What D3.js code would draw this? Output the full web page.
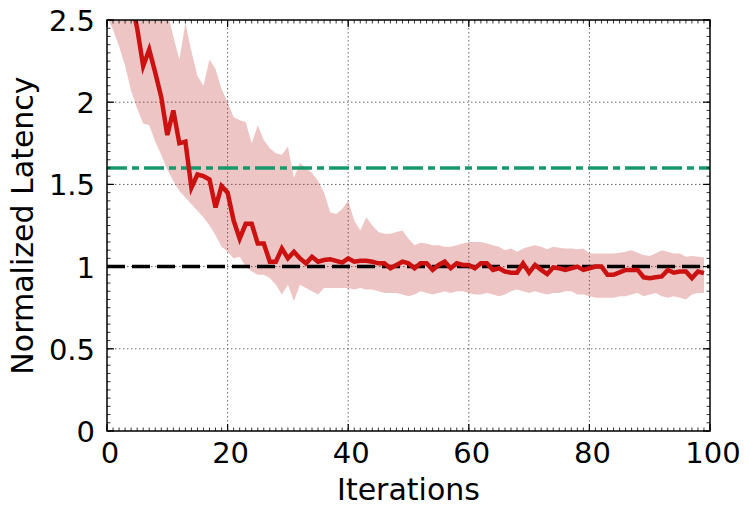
<!DOCTYPE html>
<html>
<head>
<meta charset="utf-8">
<script src="https://cdn.jsdelivr.net/npm/d3@7"></script>
<style>
	body{margin:0;background:#fff;}
	text{font-family:"DejaVu Sans", sans-serif;fill:#000;}
</style>
</head>
<body>
<div id="chart"></div>
<script>
// mean normalized latency per iteration (0..99)
var meanLatency = [3.20,3.05,2.90,2.75,2.62,2.45,2.22,2.32,2.18,2.03,
	1.80,1.95,1.75,1.76,1.48,1.56,1.55,1.53,1.36,1.49,
	1.45,1.28,1.17,1.26,1.26,1.14,1.14,1.03,1.03,1.11,
	1.05,1.09,1.05,1.02,1.06,1.03,1.04,1.045,1.035,1.025,
	1.05,1.03,1.035,1.035,1.03,1.02,1.02,0.99,1.01,1.03,
	1.02,0.99,1.02,1.02,0.98,1.01,1.03,0.99,1.02,1.01,
	1.01,0.99,1.02,1.02,0.98,0.99,0.97,0.963,0.963,1.02,
	0.963,1.01,0.98,0.955,0.995,0.99,0.98,0.99,1.00,0.98,
	0.99,1.00,1.00,0.95,0.95,0.965,0.98,0.98,0.98,0.935,
	0.93,0.935,0.94,0.98,0.963,0.97,0.97,0.93,0.97,0.96];

// upper edge of the shaded band
var upperLatency = [3.30,3.25,3.20,3.15,3.10,3.00,2.90,2.85,2.75,2.65,
	2.55,2.40,2.26,2.48,2.31,2.16,2.10,2.26,2.20,2.08,
	2.00,1.91,1.89,1.88,1.75,1.86,1.77,1.72,1.69,1.68,
	1.73,1.54,1.63,1.60,1.57,1.52,1.45,1.33,1.32,1.35,
	1.40,1.28,1.22,1.30,1.25,1.21,1.20,1.20,1.21,1.22,
	1.17,1.13,1.145,1.14,1.13,1.13,1.12,1.12,1.13,1.14,
	1.15,1.15,1.15,1.14,1.13,1.12,1.10,1.11,1.09,1.11,
	1.12,1.13,1.12,1.105,1.12,1.115,1.11,1.11,1.105,1.11,
	1.08,1.08,1.08,1.08,1.08,1.085,1.09,1.10,1.085,1.07,
	1.065,1.08,1.10,1.09,1.08,1.08,1.06,1.065,1.06,1.056];

// lower edge of the shaded band
var lowerLatency = [2.52,2.44,2.34,2.22,2.07,1.96,1.87,1.86,1.76,1.68,
	1.59,1.52,1.46,1.42,1.38,1.34,1.30,1.25,1.19,1.12,
	1.09,1.05,1.06,1.00,0.97,0.95,0.95,0.93,0.89,0.83,
	0.89,0.79,0.89,0.87,0.85,0.83,0.87,0.87,0.87,0.87,
	0.87,0.86,0.87,0.86,0.86,0.85,0.84,0.84,0.84,0.83,
	0.82,0.83,0.85,0.84,0.83,0.84,0.85,0.84,0.85,0.85,
	0.84,0.83,0.83,0.84,0.83,0.82,0.83,0.85,0.86,0.85,
	0.84,0.85,0.84,0.83,0.84,0.84,0.85,0.85,0.83,0.83,
	0.82,0.81,0.81,0.81,0.81,0.82,0.82,0.83,0.84,0.82,
	0.83,0.84,0.82,0.81,0.82,0.81,0.80,0.83,0.84,0.84];

var xTicks = [0,20,40,60,80,100];
var yTicks = [0,0.5,1,1.5,2,2.5];
var yTickLabels = ["0","0.5","1","1.5","2","2.5"];
var refLines = [1.6,1.0];   // green dash-dot, black dashed

function drawChart(){
	var width = 750, height = 509;
	var pLeft = 107, pRight = 710, pTop = 20, pBottom = 431;

	var x = d3.scaleLinear().domain([0,100]).range([pLeft,pRight]);
	var y = d3.scaleLinear().domain([0,2.5]).range([pBottom,pTop]);

	var svg = d3.select("#chart")
		.append("svg")
		.attr("width", width)
		.attr("height", height);

	svg.append("defs").append("clipPath")
		.attr("id", "plotClip")
		.append("rect")
		.attr("x", pLeft)
		.attr("y", pTop)
		.attr("width", pRight-pLeft)
		.attr("height", pBottom-pTop);

	// grid
	svg.selectAll(".gx")
		.data(xTicks.slice(1,-1))
		.enter().append("line")
		.attr("x1", function(d){return x(d);})
		.attr("x2", function(d){return x(d);})
		.attr("y1", pTop).attr("y2", pBottom)
		.attr("stroke", "#666")
		.attr("stroke-width", 1)
		.attr("stroke-dasharray", "1.5,2.5");

	svg.selectAll(".gy")
		.data(yTicks.slice(1,-1))
		.enter().append("line")
		.attr("y1", function(d){return y(d);})
		.attr("y2", function(d){return y(d);})
		.attr("x1", pLeft).attr("x2", pRight)
		.attr("stroke", "#666")
		.attr("stroke-width", 1)
		.attr("stroke-dasharray", "1.5,2.5");

	var plot = svg.append("g").attr("clip-path", "url(#plotClip)");

	var idx = d3.range(meanLatency.length);

	var band = d3.area()
		.x(function(i){return x(i);})
		.y0(function(i){return y(lowerLatency[i]);})
		.y1(function(i){return y(upperLatency[i]);});

	plot.append("path")
		.datum(idx)
		.attr("d", band)
		.attr("fill", "rgb(190,45,45)")
		.attr("fill-opacity", 0.28);

	// reference lines
	plot.append("line")
		.attr("x1", pLeft).attr("x2", pRight)
		.attr("y1", y(refLines[0])).attr("y2", y(refLines[0]))
		.attr("stroke", "#17996b")
		.attr("stroke-width", 3.5)
		.attr("stroke-dasharray", "20,5,7,5");

	plot.append("line")
		.attr("x1", pLeft).attr("x2", pRight)
		.attr("y1", y(refLines[1])).attr("y2", y(refLines[1]))
		.attr("stroke", "#000")
		.attr("stroke-width", 3.5)
		.attr("stroke-dasharray", "18,7");

	var meanLine = d3.line()
		.x(function(i){return x(i);})
		.y(function(i){return y(meanLatency[i]);});

	plot.append("path")
		.datum(idx)
		.attr("d", meanLine)
		.attr("fill", "none")
		.attr("stroke", "#cc1111")
		.attr("stroke-width", 4.5)
		.attr("stroke-linejoin", "miter");

	// ticks on all four sides, pointing inward
	var tickG = svg.append("g").attr("stroke", "#000");

	function drawXTicks(vals, len, w){
		vals.forEach(function(v){
			tickG.append("line").attr("x1", x(v)).attr("x2", x(v)).attr("y1", pBottom).attr("y2", pBottom-len).attr("stroke-width", w);
			tickG.append("line").attr("x1", x(v)).attr("x2", x(v)).attr("y1", pTop).attr("y2", pTop+len).attr("stroke-width", w);
		});
	}
	function drawYTicks(vals, len, w){
		vals.forEach(function(v){
			tickG.append("line").attr("y1", y(v)).attr("y2", y(v)).attr("x1", pLeft).attr("x2", pLeft+len).attr("stroke-width", w);
			tickG.append("line").attr("y1", y(v)).attr("y2", y(v)).attr("x1", pRight).attr("x2", pRight-len).attr("stroke-width", w);
		});
	}
	drawXTicks(d3.range(0,101,1), 3.5, 0.8);
	drawXTicks(xTicks, 7, 1.2);
	drawYTicks(d3.range(0,51).map(function(k){return k*0.05;}), 3.5, 0.8);
	drawYTicks(yTicks, 7, 1.2);

	// frame
	svg.append("rect")
		.attr("x", pLeft).attr("y", pTop)
		.attr("width", pRight-pLeft).attr("height", pBottom-pTop)
		.attr("fill", "none")
		.attr("stroke", "#000")
		.attr("stroke-width", 1.5);

	// tick labels
	svg.selectAll(".xl")
		.data(xTicks)
		.enter().append("text")
		.attr("text-anchor", "middle")
		.style("font-size", 29+"px")
		.attr("x", function(d){return x(d)+3;})
		.attr("y", 463)
		.text(function(d){return d;});

	svg.selectAll(".yl")
		.data(yTicks)
		.enter().append("text")
		.attr("text-anchor", "end")
		.style("font-size", 29+"px")
		.attr("x", 95)
		.attr("y", function(d){return y(d)+11;})
		.text(function(d,i){return yTickLabels[i];});

	// axis titles
	svg.append("text")
		.attr("text-anchor", "middle")
		.style("font-size", 30+"px")
		.attr("x", (pLeft+pRight)/2)
		.attr("y", 500)
		.text("Iterations");

	svg.append("text")
		.attr("text-anchor", "middle")
		.style("font-size", 30+"px")
		.attr("transform", "translate(33," + ((pTop+pBottom)/2) + ") rotate(-90)")
		.text("Normalized Latency");
}

drawChart();
</script>
</body>
</html>
